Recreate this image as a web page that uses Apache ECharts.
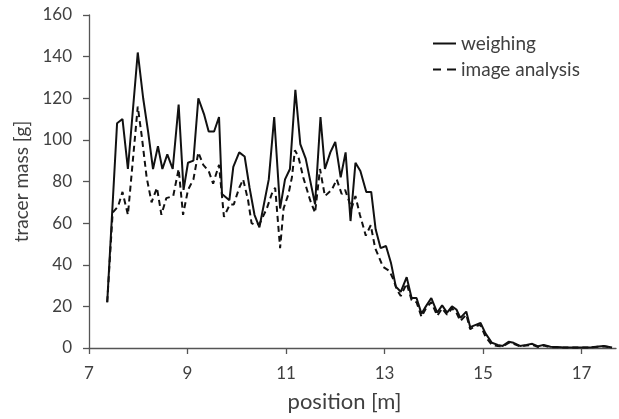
<!DOCTYPE html>
<html><head><meta charset="utf-8">
<script src="https://cdn.jsdelivr.net/npm/echarts@6/dist/echarts.min.js"></script>
<style>html,body{margin:0;padding:0;background:#fff}#c{width:619px;height:419px}</style>
</head><body><div id="c"></div>
<script>
const weighingPos = [7.37,7.57,7.68,7.79,7.99,8.10,8.20,8.30,8.40,8.49,8.59,8.70,8.82,8.92,9.01,9.12,9.22,9.34,9.43,9.54,9.64,9.70,9.85,9.93,10.05,10.16,10.26,10.36,10.46,10.65,10.76,10.88,10.98,11.08,11.19,11.29,11.40,11.59,11.70,11.79,11.90,12.00,12.11,12.21,12.31,12.41,12.51,12.63,12.73,12.82,12.92,13.03,13.13,13.23,13.33,13.45,13.55,13.65,13.75,13.84,13.95,14.07,14.17,14.27,14.37,14.46,14.54,14.66,14.74,14.84,14.95,15.05,15.18,15.30,15.40,15.52,15.62,15.75,15.88,16.00,16.12,16.23,16.37,16.60,16.90,17.20,17.45,17.62];
const weighingMass = [22,108,110,86,142,120,104,86,97,86,93,86,117,76,89,90,120,112,104,104,111,74,71,87,94,92,77,64,58,81,111,67,81,86,124,98,91,69,111,86,94,99,82,94,61,89,85,75,75,57,48,49,41,29.5,27,34,24,24,16.5,20,24,17,20.5,17,20,18.5,14.5,17.5,10,11,12,7,2.5,1.5,1,3,2.5,1,1.5,2,0.8,1.5,0.6,0.4,0.3,0.4,1,0.2];
const imagePos = [7.37,7.48,7.59,7.68,7.79,7.99,8.07,8.17,8.27,8.38,8.47,8.57,8.71,8.82,8.91,9.01,9.12,9.22,9.32,9.43,9.52,9.64,9.74,9.86,9.94,10.05,10.13,10.23,10.30,10.38,10.47,10.61,10.71,10.78,10.88,10.95,11.05,11.12,11.18,11.25,11.35,11.49,11.59,11.69,11.79,11.93,12.03,12.13,12.20,12.33,12.41,12.50,12.62,12.72,12.81,12.97,13.10,13.18,13.25,13.33,13.45,13.55,13.65,13.75,13.84,13.95,14.07,14.17,14.27,14.37,14.46,14.54,14.66,14.74,14.84,14.95,15.05,15.18,15.30,15.40,15.52,15.62,15.75,15.88,16.00,16.12,16.23,16.37,16.60,16.90,17.20,17.45,17.62];
const imageMass = [22,65,68,75,64,116,102,82,70,77,64,72,73,86,64,76,81,94,88,85,79,88,63,69,69,77,81,71,60,59,60,67,74,77,48,67,74,82,95,92,82,71,65,86,73,76,81,74,76,67,73,64,54,59,48,39,37,33,28,25,31,23,22,15,19,22,15.5,19,16,19,17,13,16,9,10.5,11,5.5,1.5,1,0.8,2.5,2,0.8,1.2,1.5,0.5,1.2,0.4,0.3,0.2,0.3,0.8,0.2];
const xTicks = [7,9,11,13,15,17];
const seriesNames = ['weighing','image analysis'];
const xTitle = 'position [m]';
const yTitle = 'tracer mass [g]';

const pair = (xs, ys) => xs.map((x, i) => [x, ys[i]]);
const FONT = 'Lato';
const TXT = '#404040';
const chart = echarts.init(document.getElementById('c'), null, {renderer: 'canvas'});
chart.setOption({
  animation: false,
  backgroundColor: '#fff',
  grid: {left: 89, top: 15, width: 527, height: 333, containLabel: false},
  legend: {
    orient: 'vertical', left: 428, top: 27, itemWidth: 23, itemHeight: 2, itemGap: 3,
    textStyle: {fontFamily: FONT, fontSize: 19, color: TXT, lineHeight: 23},
    data: [
      {name: seriesNames[0], icon: 'rect'},
      {name: seriesNames[1], icon: 'path://M0,0h8v2h-8zM14,0h9v2h-9z'}
    ]
  },
  xAxis: {
    type: 'value', min: 7, max: 17.7,
    axisLine: {onZero: false, lineStyle: {color: '#555', width: 1.3}},
    axisTick: {show: true, length: 6, customValues: xTicks, lineStyle: {color: '#555', width: 1.3}},
    axisLabel: {customValues: xTicks, margin: 17, fontFamily: FONT, fontSize: 17, color: TXT},
    splitLine: {show: false},
    name: xTitle, nameLocation: 'middle', nameGap: 43,
    nameTextStyle: {fontFamily: FONT, fontSize: 22, color: TXT, padding: [0, 16, 0, 0]}
  },
  yAxis: {
    type: 'value', min: 0, max: 160, interval: 20,
    axisLine: {show: true, lineStyle: {color: '#555', width: 1.3}},
    axisTick: {show: true, length: 6, lineStyle: {color: '#555', width: 1.3}},
    axisLabel: {margin: 17, fontFamily: FONT, fontSize: 17, color: TXT},
    splitLine: {show: false},
    name: yTitle, nameLocation: 'middle', nameGap: 58,
    nameTextStyle: {fontFamily: FONT, fontSize: 19, color: TXT}
  },
  series: [
    {name: seriesNames[0], type: 'line', symbol: 'none', data: pair(weighingPos, weighingMass),
     lineStyle: {color: '#111', width: 2}, itemStyle: {color: '#111'}},
    {name: seriesNames[1], type: 'line', symbol: 'none', data: pair(imagePos, imageMass),
     lineStyle: {color: '#111', width: 2, type: [6, 4]}, itemStyle: {color: '#111'}}
  ]
});
</script></body></html>
